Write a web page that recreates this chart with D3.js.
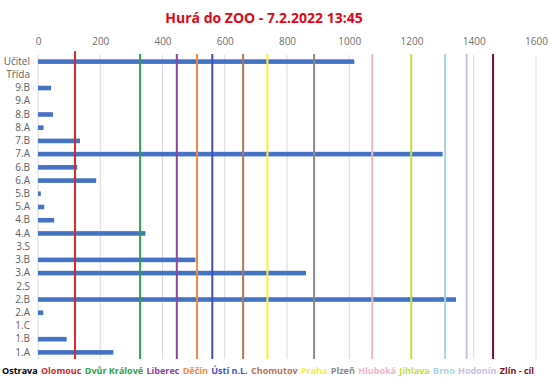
<!DOCTYPE html>
<html>
<head>
<meta charset="utf-8">
<script src="https://cdn.jsdelivr.net/npm/d3@7"></script>
<style>
  body { margin: 0; background: #fff; }
  svg { font-family: "Open Sans", "Liberation Sans", sans-serif; }
</style>
</head>
<body>
<svg width="550" height="381"></svg>
<script>
// tridy odshora dolu
var classes = ["Učitel", "Třída", "9.B", "9.A", "8.B", "8.A", "7.B", "7.A", "6.B", "6.A",
  "5.B", "5.A", "4.B", "4.A", "3.S", "3.B", "3.A", "2.S", "2.B", "2.A", "1.C", "1.B", "1.A"];
var km = [1016, 0, 42, 0, 48, 18, 135, 1300, 126, 187,
  9, 20, 52, 345, 0, 506, 861, 0, 1343, 17, 0, 92, 242];

// zastavky na trase
var stops = ["Ostrava", "Olomouc", "Dvůr Králové", "Liberec", "Děčín", "Ústí n.L.", "Chomutov",
  "Praha", "Plzeň", "Hluboká", "Jihlava", "Brno", "Hodonín", "Zlín - cíl"];
var stopKm = [0, 119, 328, 446, 511, 560, 659, 737, 887, 1074, 1199, 1308, 1377, 1462];
var stopColors = ["#000000", "#d42a2a", "#2fa34a", "#8e44a0", "#f08a3c", "#4050c0", "#b07852",
  "#f7f03a", "#8a8a8a", "#f2b5c6", "#bfe045", "#a9d4e6", "#c9c2de", "#7d0f26"];

var xTicks = [0, 200, 400, 600, 800, 1000, 1200, 1400, 1600];

var svg = d3.select("svg"),
    width = +svg.attr("width"),
    height = +svg.attr("height");

var x = d3.scaleLinear().domain([0, 1600]).range([38, 536]);
var y = d3.scaleBand().domain(classes).range([55, 359]);

svg.append("text")
    .attr("x", 264)
    .attr("y", 23)
    .attr("text-anchor", "middle")
    .attr("fill", "#e30613")
    .style("font-weight", "bold")
    .style("font-size", "14px")
    .text("Hurá do ZOO - 7.2.2022 13:45");

// mrizka
svg.append("g")
  .selectAll("line")
  .data(xTicks)
  .enter().append("line")
    .attr("x1", function(d) { return x(d); })
    .attr("x2", function(d) { return x(d); })
    .attr("y1", 55)
    .attr("y2", 359)
    .attr("stroke", "#d9d9d9")
    .attr("stroke-width", 1);

var xAxis = svg.append("g")
    .attr("transform", "translate(0,45)")
    .call(d3.axisTop(x).tickValues(xTicks).tickSize(0).tickPadding(0).tickFormat(d3.format("d")));
xAxis.select(".domain").remove();
xAxis.selectAll("text")
    .attr("fill", "#6f6f6f")
    .style("font-size", "10px")
    .style("font-family", "'Open Sans', sans-serif");

var yAxis = svg.append("g")
    .attr("transform", "translate(30,0)")
    .call(d3.axisLeft(y).tickSize(0).tickPadding(0));
yAxis.select(".domain").remove();
yAxis.selectAll("text")
    .attr("fill", "#606060")
    .style("font-size", "10px")
    .style("font-family", "'Open Sans', sans-serif");

// sloupce
svg.append("g")
  .selectAll("rect")
  .data(classes)
  .enter().append("rect")
    .attr("x", x(0))
    .attr("y", function(d) { return y(d) + y.bandwidth() / 2 - 2.3; })
    .attr("width", function(d, i) { return x(km[i]) - x(0); })
    .attr("height", 4.6)
    .attr("fill", "#4472c4");

// cary zastavek
var stopIdx = d3.range(stops.length).filter(function(i) { return stopKm[i] > 0; });
svg.append("g")
  .selectAll("line")
  .data(stopIdx)
  .enter().append("line")
    .attr("x1", function(i) { return x(stopKm[i]); })
    .attr("x2", function(i) { return x(stopKm[i]); })
    .attr("y1", function(i) { return i == 1 ? 51 : 54; })
    .attr("y2", 359)
    .attr("stroke", function(i) { return stopColors[i]; })
    .attr("stroke-width", 2);

// legenda
var legend = svg.append("g").attr("transform", "translate(0,374)");
var items = legend.selectAll("text")
  .data(stops)
  .enter().append("text")
    .attr("fill", function(d, i) { return stopColors[i]; })
    .style("font-size", "9px")
    .style("font-weight", "bold")
    .text(function(d) { return d; });

var widths = [];
items.each(function() { widths.push(this.getComputedTextLength()); });
var gap = (534 - 2 - d3.sum(widths)) / (stops.length - 1);
var pos = 2;
items.attr("x", function(d, i) { var p = pos; pos += widths[i] + gap; return p; });
</script>
</body>
</html>
